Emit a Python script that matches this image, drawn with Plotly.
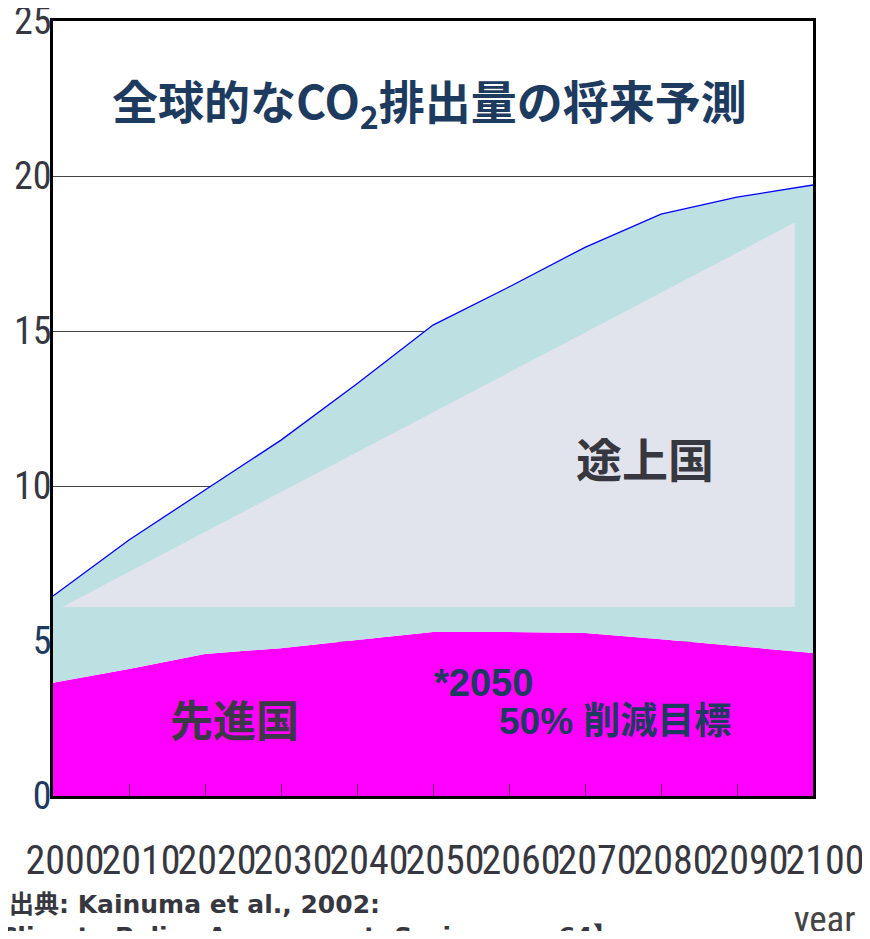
import plotly.graph_objects as go

# ---- data ----
years = [2000, 2010, 2020, 2030, 2040, 2050, 2060, 2070, 2080, 2090, 2100]
developed = [3.65, 4.1, 4.58, 4.77, 5.03, 5.29, 5.29, 5.26, 5.06, 4.84, 4.61]
total = [6.45, 8.26, 9.87, 11.48, 13.3, 15.19, 16.42, 17.7, 18.77, 19.32, 19.71]
# decorative "developing countries" panel (triangle drawn in the original)
developing_panel_x = [2001.2, 2097.6, 2097.6, 2001.2]
developing_panel_y = [6.1, 18.5, 6.1, 6.1]

y_ticks = [0, 5, 10, 15, 20, 25]
x_ticks = years
title_text = "全球的なCO<sub>2</sub>排出量の将来予測"
source_line1 = "【出典: Kainuma et al., 2002:"
source_line2 = "Climate Policy Assessment, Springer, p.64】"

NAVY = "#1d3a5f"
GRAY = "#37373f"
NARROW = "Liberation Sans Narrow, Roboto Condensed, Arial Narrow, sans-serif"
CJK = "Noto Sans CJK JP, sans-serif"
LIB = "Liberation Sans, Noto Sans CJK JP, sans-serif"
DV = "DejaVu Sans, Noto Sans CJK JP, sans-serif"

fig = go.Figure()
fig.add_trace(go.Scatter(x=years, y=developed, mode="lines", fill="tozeroy",
                         fillcolor="#ff00ff", line=dict(width=0, color="#ff00ff"),
                         hoverinfo="skip", showlegend=False))
fig.add_trace(go.Scatter(x=years, y=total, mode="lines", fill="tonexty",
                         fillcolor="#bde0e3", line=dict(width=1.3, color="#0000ff"),
                         hoverinfo="skip", showlegend=False))
fig.add_trace(go.Scatter(x=developing_panel_x, y=developing_panel_y, mode="lines",
                         fill="toself", fillcolor="#e1e4ed", line=dict(width=0),
                         hoverinfo="skip", showlegend=False))

ytext = []
for v in y_ticks:
    c = NAVY if v <= 5 else GRAY
    ytext.append(f'<span style="color:{c}">{v}</span>')

# page body has an 8px default margin -> figure placed at (8, 8); keep it inside the window
fig.update_layout(
    width=854, height=923,
    margin=dict(l=45, r=49, t=13, b=135),
    paper_bgcolor="white", plot_bgcolor="white",
    xaxis=dict(range=[2000, 2100], tickvals=x_ticks, ticktext=[str(v) for v in x_ticks],
               ticks="inside", ticklen=12, tickwidth=1, tickcolor="#660066",
               showgrid=False, zeroline=False, showline=True, linewidth=3,
               linecolor="black", mirror=True, tickangle=0, automargin=False,
               tickfont=dict(family=NARROW, size=40, color=GRAY),
               ticklabelstandoff=27, ticklabelshift=12, ticklabeloverflow="allow"),
    yaxis=dict(range=[0, 25], tickvals=y_ticks, ticktext=ytext,
               showgrid=True, gridcolor="#444444", gridwidth=1,
               zeroline=False, showline=True, linewidth=3, linecolor="black",
               mirror=True, ticks="", automargin=False,
               tickfont=dict(family=NARROW, size=38, color=GRAY),
               ticklabelstandoff=-9, ticklabeloverflow="allow"),
)

def ann(text, x, y, font, xref="x", yref="y", xanchor="center", yanchor="middle", align="center"):
    fig.add_annotation(text=text, xref=xref, yref=yref, x=x, y=y, showarrow=False,
                       xanchor=xanchor, yanchor=yanchor, align=align, font=font)

ann(f"<b>{title_text}</b>", 0.496, 0.896, dict(family=CJK, size=46, color=NAVY),
    xref="paper", yref="paper")
ann("<b>途上国</b>", 2077.9, 10.95, dict(family=CJK, size=46, color=GRAY))
ann("<b>先進国</b>", 2023.9, 2.52, dict(family=CJK, size=43, color="#3b3848"))
ann("<b>*2050</b>", 2056.6, 3.65, dict(family=LIB, size=38, color=NAVY))
ann("<b>50% 削減目標</b>", 2073.9, 2.39, dict(family=LIB, size=37, color=NAVY))
ann(f"<b>{source_line1}</b>", -0.0934, -0.1394, dict(family=DV, size=25, color=GRAY),
    xref="paper", yref="paper", xanchor="left")
ann(f"<b>{source_line2}</b>", -0.0737, -0.1819, dict(family=DV, size=25, color=GRAY),
    xref="paper", yref="paper", xanchor="left")
ann("year", 1.059, -0.16, dict(family=NARROW, size=37, color="#444444"),
    xref="paper", yref="paper", xanchor="right")

fig.write_html("out.html")
